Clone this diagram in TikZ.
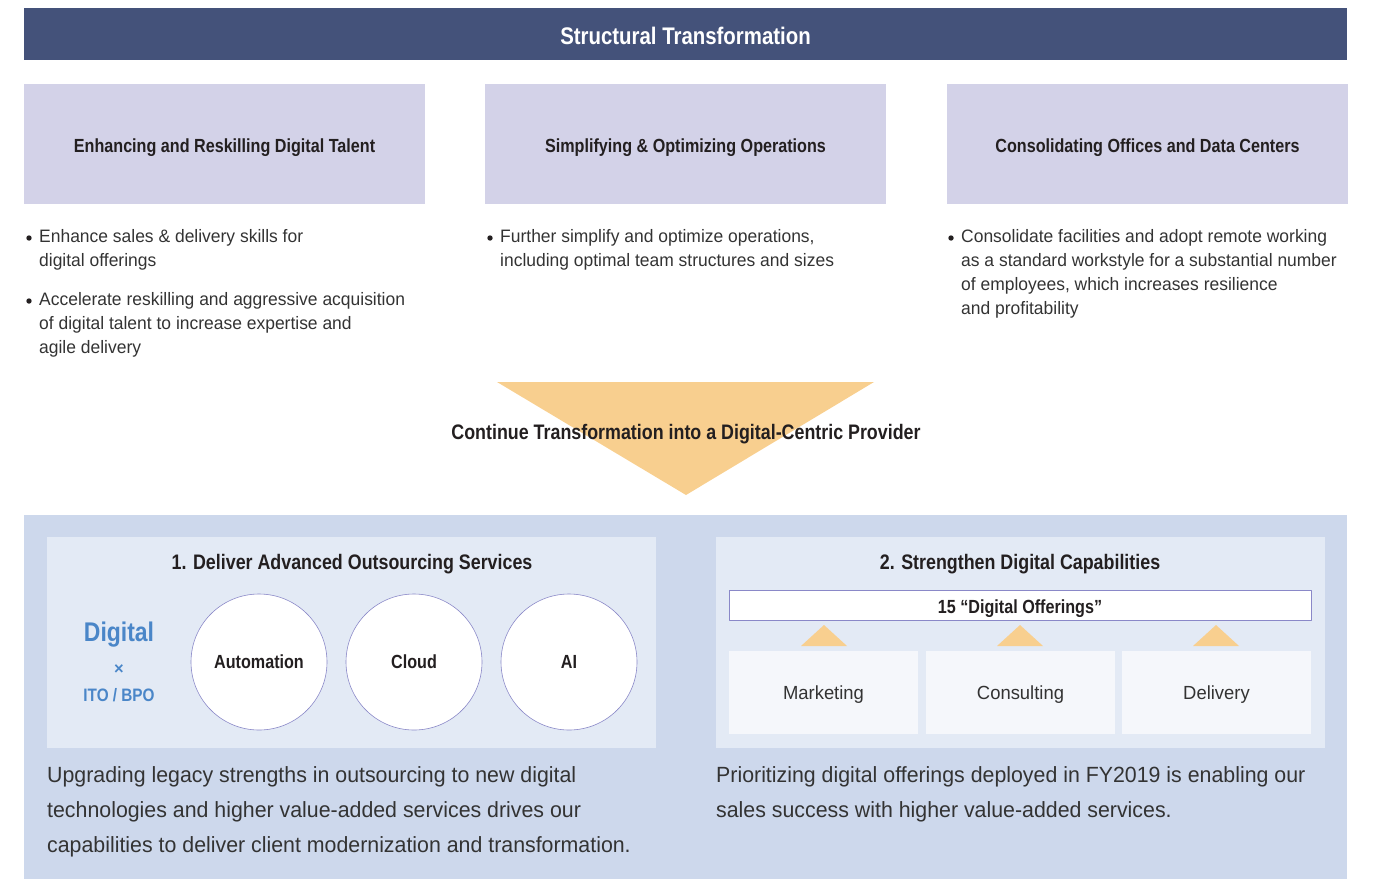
\documentclass[tikz,border=0pt]{standalone}
\usepackage{fontspec}
\setmainfont{Liberation Sans}
\newfontfamily\headfont[FakeStretch=0.85]{Liberation Sans}
\newfontfamily\bodyfont[FakeStretch=0.97]{Liberation Sans}
\usepackage{xcolor}
\usepackage{tikz}
\usetikzlibrary{positioning}
\definecolor{bannerblue}{RGB}{68,82,122}
\definecolor{lavender}{RGB}{211,210,232}
\definecolor{panelblue}{RGB}{205,216,236}
\definecolor{innerblue}{RGB}{227,234,245}
\definecolor{paleblue}{RGB}{245,247,251}
\definecolor{ochre}{RGB}{248,207,143}
\definecolor{digitalblue}{RGB}{74,134,200}
\definecolor{ringpurple}{RGB}{138,136,200}
\definecolor{inkdark}{RGB}{35,31,32}
\definecolor{inkgray}{RGB}{51,51,51}

\begin{document}
\begin{tikzpicture}[x=1pt, y=-1pt, line join=round,
    block/.style={inner sep=0pt, outer sep=0pt},
    headtxt/.style={font=\headfont\bfseries\fontsize{19}{22}\selectfont, text=inkdark, text depth=0pt},
    bullettxt/.style={font=\bodyfont\fontsize{18}{24}\selectfont, text=inkgray, align=left, inner sep=0pt, anchor=north west},
    paratxt/.style={font=\bodyfont\fontsize{22}{35}\selectfont, text=inkgray, align=left, inner sep=0pt, anchor=north west},
    ring/.style={circle, draw=ringpurple, line width=0.6pt, fill=white, minimum size=136pt, inner sep=0pt, headtxt},
    pillar/.style={block, fill=lavender, minimum width=401pt, minimum height=120pt, headtxt, text height=16pt},
    unitbox/.style={block, fill=paleblue, minimum width=189pt, minimum height=83pt, font=\bodyfont\fontsize{19}{22}\selectfont, text=inkgray, text depth=0pt}]
    \useasboundingbox (0,0) rectangle (1376,879);

    % top banner
    \node[block, fill=bannerblue, minimum width=1323pt, minimum height=52pt, text=white, text depth=0pt, text height=21pt,
          font=\headfont\bfseries\fontsize{24}{28}\selectfont] (banner) at (685.5,34) {Structural Transformation};

    % three pillars
    \node[pillar] (talent) at (224.5,144) {Enhancing and Reskilling Digital Talent};
    \node[pillar] (ops) at (685.5,144) {Simplifying \& Optimizing Operations};
    \node[pillar] (offices) at (1147.5,144) {Consolidating Offices and Data Centers};

    % bullet points under each pillar
    \foreach \P in {(29,238),(29,301),(490,238),(951,238)} {\fill[inkdark] \P circle (2.7);}
    \node[bullettxt] (talentA) at (39,229) {Enhance sales \& delivery skills for\\digital offerings};
    \node[bullettxt] (talentB) at (39,292) {Accelerate reskilling and aggressive acquisition\\of digital talent to increase expertise and\\agile delivery};
    \node[bullettxt] (opsA) at (500,229) {Further simplify and optimize operations,\\including optimal team structures and sizes};
    \node[bullettxt] (officesA) at (961,229) {Consolidate facilities and adopt remote working\\as a standard workstyle for a substantial number\\of employees, which increases resilience\\and profitability};

    % funnel arrow with its caption
    \coordinate (funL) at (497,382);
    \coordinate (funR) at (874,382);
    \coordinate (funT) at (686,495);
    \fill[ochre] (funL)--(funR)--(funT)--cycle;
    \node[headtxt, font=\headfont\bfseries\fontsize{21}{24}\selectfont] (continue) at (686,432) {Continue Transformation into a Digital-Centric Provider};

    % lower panel
    \node[block, fill=panelblue, minimum width=1323pt, minimum height=364pt] (panel) at (685.5,697) {};
    \node[block, fill=innerblue, minimum width=609pt, minimum height=211pt] (deliver) at (351.5,642.5) {};
    \node[block, fill=innerblue, minimum width=609pt, minimum height=211pt] (strengthen) at (1020.5,642.5) {};

    % 1. outsourcing services
    \node[headtxt, font=\headfont\bfseries\fontsize{21}{24}\selectfont] (deliverT) at (352,562) {1. Deliver Advanced Outsourcing Services};
    \node[text=digitalblue, text depth=0pt, font=\headfont\bfseries\fontsize{27}{30}\selectfont] (digital) at (119,632) {Digital};
    \node[text=digitalblue, font=\bodyfont\bfseries\fontsize{17}{20}\selectfont] (times) at (119,670) {×};
    \node[text=digitalblue, text depth=0pt, font=\headfont\bfseries\fontsize{18}{20}\selectfont] (itobpo) at (119,695) {ITO / BPO};
    \node[ring] (auto) at (259,662) {Automation};
    \node[ring] (cloud) at (414,662) {Cloud};
    \node[ring] (ai) at (569,662) {AI};

    % 2. digital capabilities
    \node[headtxt, font=\headfont\bfseries\fontsize{21}{24}\selectfont] (strengthenT) at (1020,562) {2. Strengthen Digital Capabilities};
    \node[block, draw=ringpurple, line width=0.6pt, fill=white, minimum width=582pt, minimum height=30pt, headtxt, text height=17.5pt] (offers) at (1020,605) {15 “Digital Offerings”};
    \node[unitbox] (marketing) at (823.5,692.5) {Marketing};
    \node[unitbox] (consulting) at (1020.5,692.5) {Consulting};
    \node[unitbox] (delivery) at (1216.5,692.5) {Delivery};
    \foreach \x in {824,1020,1216} {\fill[ochre] ({\x-23},646)--({\x+23},646)--(\x,625)--cycle;}

    % closing statements
    \node[paratxt] (deliverP) at (47,766) {Upgrading legacy strengths in outsourcing to new digital\\technologies and higher value-added services drives our\\capabilities to deliver client modernization and transformation.};
    \node[paratxt] (strengthenP) at (716,766) {Prioritizing digital offerings deployed in FY2019 is enabling our\\sales success with higher value-added services.};
\end{tikzpicture}
\end{document}
